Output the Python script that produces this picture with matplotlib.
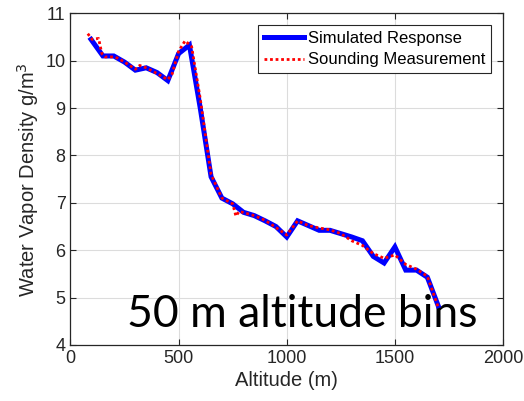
import matplotlib
matplotlib.use("Agg")
import matplotlib.pyplot as plt

plt.rcParams['font.family'] = ['Liberation Sans', 'DejaVu Sans']

sim_alt = [95, 150, 200, 250, 300, 350, 400, 450, 500, 550, 600, 650, 700, 750,
           800, 850, 900, 950, 1000, 1050, 1100, 1150, 1200, 1250, 1300, 1350,
           1400, 1450, 1500, 1550, 1600, 1650, 1700]
sim_val = [10.45, 10.1, 10.1, 9.97, 9.8, 9.85, 9.75, 9.58, 10.15, 10.33, 9.0,
           7.55, 7.1, 6.98, 6.8, 6.73, 6.62, 6.5, 6.28, 6.62, 6.52, 6.42, 6.42,
           6.35, 6.28, 6.2, 5.87, 5.73, 6.07, 5.58, 5.58, 5.43, 4.83]

snd_alt = [80, 100, 130, 145, 160, 200, 220, 250, 280, 300, 320, 350, 400, 450,
           470, 500, 530, 560, 600, 650, 700, 750, 765, 780, 850, 900, 950, 1000,
           1050, 1100, 1150, 1200, 1250, 1300, 1350, 1400, 1450, 1500, 1550, 1600,
           1650, 1700]
snd_val = [10.57, 10.45, 10.47, 10.15, 10.08, 10.08, 10.05, 9.97, 9.88, 9.82,
           9.9, 9.85, 9.73, 9.6, 9.72, 10.2, 10.42, 10.3, 9.2, 7.6, 7.1, 6.98,
           6.72, 6.82, 6.73, 6.63, 6.48, 6.32, 6.62, 6.52, 6.47, 6.43, 6.35, 6.2,
           6.1, 5.93, 5.83, 5.9, 5.7, 5.6, 5.45, 4.8]

xticks = [0, 500, 1000, 1500, 2000]
yticks = [4, 5, 6, 7, 8, 9, 10, 11]

fig = plt.figure(figsize=(5.24, 4.01), dpi=100)
ax = fig.add_axes([0.1345, 0.1397, 0.8255, 0.8271])

ax.plot(sim_alt, sim_val, color='#0000ff', lw=3.6, label='Simulated Response',
        solid_joinstyle='miter', zorder=3)
ax.plot(snd_alt, snd_val, color='#ff0000', lw=2.0, ls=(0, (1, 1)),
        label='Sounding Measurement', zorder=4)

ax.set_xlim(0, 2000)
ax.set_ylim(4, 11)
ax.set_xticks(xticks)
ax.set_yticks(yticks)
ax.grid(True, color='#dcdcdc', lw=0.8)
ax.set_axisbelow(True)
ax.tick_params(direction='in', top=True, right=True, length=4, labelsize=13,
               colors='#262626', width=0.8)
for s in ax.spines.values():
    s.set_color('#262626')
    s.set_linewidth(0.9)

ax.set_xlabel('Altitude (m)', fontsize=14.5, color='#262626', labelpad=3)
ax.set_ylabel('Water Vapor Density g/m$^3$', fontsize=14.5, color='#262626',
              labelpad=3)

leg = ax.legend(loc='upper right', fontsize=12, frameon=True, fancybox=False,
                edgecolor='#262626', framealpha=1, borderpad=0.35,
                handlelength=2.4, handletextpad=0.25, labelspacing=0.4,
                borderaxespad=0.7)
leg.get_frame().set_linewidth(0.8)
leg.set_zorder(5)

ax.text(127 / 524, 1 - 327 / 401, '50 m altitude bins', fontsize=32,
        family=['Lato', 'DejaVu Sans'], color='black', va='baseline', ha='left',
        transform=fig.transFigure, zorder=2)

fig.savefig('out.png', dpi=100, facecolor='white')
